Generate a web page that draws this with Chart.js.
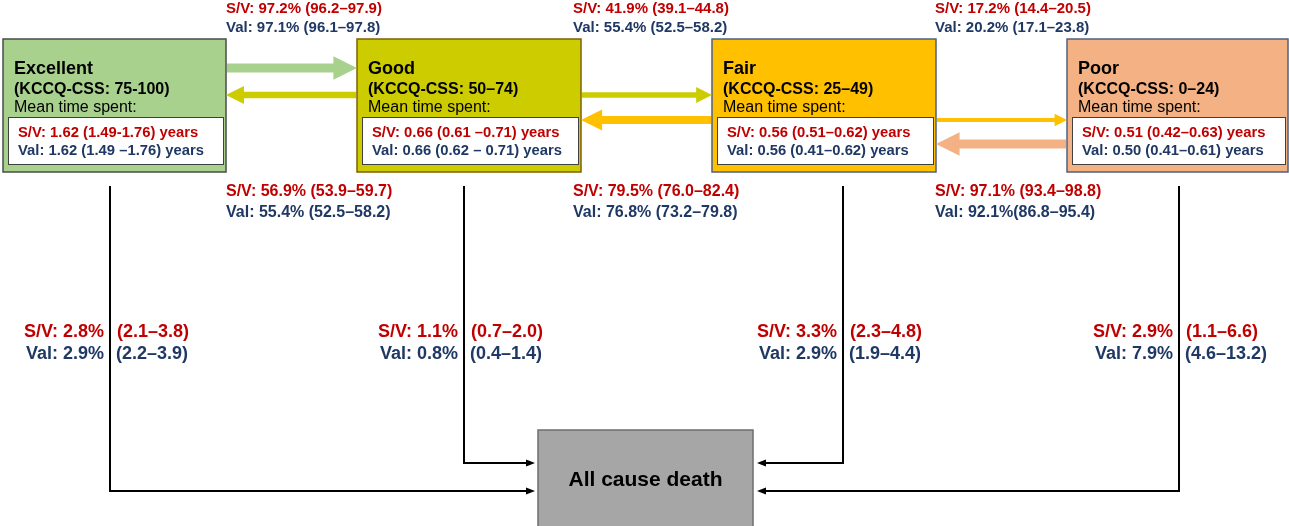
<!DOCTYPE html>
<html>
<head>
<meta charset="utf-8">
<script src="https://cdn.jsdelivr.net/npm/chart.js@4/dist/chart.umd.min.js"></script>
<style>
  html, body { margin: 0; padding: 0; background: #ffffff; }
  #wrap { width: 1289px; height: 526px; }
</style>
</head>
<body>
<div id="wrap"><canvas id="c" width="1289" height="526"></canvas></div>
<script>
// ---- Health states (KCCQ-CSS categories) ----
const states = ['Excellent', 'Good', 'Fair', 'Poor'];
const scoreRanges = ['(KCCQ-CSS: 75-100)', '(KCCQ-CSS: 50–74)', '(KCCQ-CSS: 25–49)', '(KCCQ-CSS: 0–24)'];

// Mean time spent in each state (years), derivation (S/V) and validation (Val) cohorts
const sojournSV     = [1.62, 0.66, 0.56, 0.51];
const sojournSVLow  = [1.49, 0.61, 0.51, 0.42];
const sojournSVHigh = [1.76, 0.71, 0.62, 0.63];
const sojournSVSep  = ['-', ' –', '–', '–'];
const sojournVal     = [1.62, 0.66, 0.56, 0.50];
const sojournValLow  = [1.49, 0.62, 0.41, 0.41];
const sojournValHigh = [1.76, 0.71, 0.62, 0.61];
const sojournValSep  = [' –', ' – ', '–', '–'];

// Transition to the next worse state (Excellent→Good, Good→Fair, Fair→Poor), %
const worsenSV     = [97.2, 41.9, 17.2];
const worsenSVLow  = [96.2, 39.1, 14.4];
const worsenSVHigh = [97.9, 44.8, 20.5];
const worsenVal     = [97.1, 55.4, 20.2];
const worsenValLow  = [96.1, 52.5, 17.1];
const worsenValHigh = [97.8, 58.2, 23.8];

// Transition to the next better state (Good→Excellent, Fair→Good, Poor→Fair), %
const improveSV     = [56.9, 79.5, 97.1];
const improveSVLow  = [53.9, 76.0, 93.4];
const improveSVHigh = [59.7, 82.4, 98.8];
const improveVal     = [55.4, 76.8, 92.1];
const improveValLow  = [52.5, 73.2, 86.8];
const improveValHigh = [58.2, 79.8, 95.4];
const improveValGap  = [' ', ' ', ''];

// Transition to all-cause death from each state, %
const deathSV     = [2.8, 1.1, 3.3, 2.9];
const deathSVLow  = [2.1, 0.7, 2.3, 1.1];
const deathSVHigh = [3.8, 2.0, 4.8, 6.6];
const deathVal     = [2.9, 0.8, 2.9, 7.9];
const deathValLow  = [2.2, 0.4, 1.9, 4.6];
const deathValHigh = [3.9, 1.4, 4.4, 13.2];
const deathLabel = 'All cause death';

// ---- Layout and styling (diagram units = pixels of the 1289×526 canvas) ----
const layout = {
  boxLeft: [3, 357, 712, 1067], boxRight: [226, 581, 936, 1288],
  boxTop: 39, boxBottom: 172,
  innerTop: 117, innerBottom: 164,
  arrowRows: [68, 95, 120, 144],
  topLabelX: [226, 573, 935],
  lineX: [110, 464, 843, 1179], lineTop: 186,
  deathBox: { left: 538, right: 753, top: 430, bottom: 527 },
  deathEntryY: [491, 463, 463, 491],
  deathLabelY: [337, 359]
};
const fills   = ['#a9d18e', '#cccc00', '#ffc000', '#f4b183'];
const borders = ['#4b4b4b', '#7f6000', '#4f6080', '#4f6080'];
const RED = '#c00000', NAVY = '#1f3864';
const FONT = '"Liberation Sans", Arial, Helvetica, sans-serif';

const f1 = v => v.toFixed(1);
const f2 = v => v.toFixed(2);

const diagramPlugin = {
  id: 'stateDiagram',
  afterDraw(chart) {
    const ctx = chart.ctx;
    const xs = chart.scales.x, ys = chart.scales.y;
    const X = v => xs.getPixelForValue(v);
    const Y = v => ys.getPixelForValue(v);

    ctx.save();
    ctx.textBaseline = 'alphabetic';

    const text = (s, x, y, font, color, align) => {
      ctx.font = font; ctx.fillStyle = color; ctx.textAlign = align || 'left';
      ctx.fillText(s, X(x), Y(y));
    };

    // state boxes
    states.forEach((name, i) => {
      const l = layout.boxLeft[i], r = layout.boxRight[i];
      ctx.fillStyle = fills[i];
      ctx.fillRect(X(l), Y(layout.boxTop), X(r) - X(l), Y(layout.boxBottom) - Y(layout.boxTop));
      ctx.strokeStyle = borders[i]; ctx.lineWidth = 1.5;
      ctx.strokeRect(X(l), Y(layout.boxTop), X(r) - X(l), Y(layout.boxBottom) - Y(layout.boxTop));

      text(name, l + 11, 74, 'bold 18px ' + FONT, '#000000');
      text(scoreRanges[i], l + 11, 94, 'bold 16px ' + FONT, '#000000');
      text('Mean time spent:', l + 11, 112, '16px ' + FONT, '#000000');

      const il = l + 5, ir = r - 3;
      ctx.fillStyle = '#ffffff';
      ctx.fillRect(X(il), Y(layout.innerTop), X(ir) - X(il), Y(layout.innerBottom) - Y(layout.innerTop));
      ctx.strokeStyle = '#404040'; ctx.lineWidth = 1;
      ctx.strokeRect(X(il) + 0.5, Y(layout.innerTop) + 0.5, X(ir) - X(il), Y(layout.innerBottom) - Y(layout.innerTop));

      text(`S/V: ${f2(sojournSV[i])} (${f2(sojournSVLow[i])}${sojournSVSep[i]}${f2(sojournSVHigh[i])}) years`,
        il + 10, 137, 'bold 14.8px ' + FONT, RED);
      text(`Val: ${f2(sojournVal[i])} (${f2(sojournValLow[i])}${sojournValSep[i]}${f2(sojournValHigh[i])}) years`,
        il + 10, 155, 'bold 14.8px ' + FONT, NAVY);
    });

    // block arrow whose shaft and head size follow the transition probability
    const blockArrow = (x0, x1, y, p, color) => {
      const t = 3 + 6 * p / 100, h = 10 + 14 * p / 100, len = h;
      const dir = Math.sign(x1 - x0);
      const xb = x1 - dir * len;
      ctx.fillStyle = color;
      ctx.beginPath();
      ctx.moveTo(X(x0), Y(y - t / 2));
      ctx.lineTo(X(xb), Y(y - t / 2));
      ctx.lineTo(X(xb), Y(y - h / 2));
      ctx.lineTo(X(x1), Y(y));
      ctx.lineTo(X(xb), Y(y + h / 2));
      ctx.lineTo(X(xb), Y(y + t / 2));
      ctx.lineTo(X(x0), Y(y + t / 2));
      ctx.closePath();
      ctx.fill();
    };

    for (let i = 0; i < 3; i++) {
      const rightEdge = layout.boxRight[i];
      const nextLeft = layout.boxLeft[i + 1];
      blockArrow(rightEdge + 1, nextLeft, layout.arrowRows[i], worsenSV[i], fills[i]);
      blockArrow(nextLeft - 1, rightEdge, layout.arrowRows[i + 1], improveSV[i], fills[i + 1]);

      const lx = layout.topLabelX[i];
      text(`S/V: ${f1(worsenSV[i])}% (${f1(worsenSVLow[i])}–${f1(worsenSVHigh[i])})`, lx, 13, 'bold 15px ' + FONT, RED);
      text(`Val: ${f1(worsenVal[i])}% (${f1(worsenValLow[i])}–${f1(worsenValHigh[i])})`, lx, 32, 'bold 15px ' + FONT, NAVY);
      text(`S/V: ${f1(improveSV[i])}% (${f1(improveSVLow[i])}–${f1(improveSVHigh[i])})`, lx, 196, 'bold 16px ' + FONT, RED);
      text(`Val: ${f1(improveVal[i])}%${improveValGap[i]}(${f1(improveValLow[i])}–${f1(improveValHigh[i])})`, lx, 217, 'bold 16px ' + FONT, NAVY);
    }

    // all-cause death box
    const d = layout.deathBox;
    ctx.fillStyle = '#a6a6a6';
    ctx.fillRect(X(d.left), Y(d.top), X(d.right) - X(d.left), Y(d.bottom) - Y(d.top));
    ctx.strokeStyle = '#6e6e6e'; ctx.lineWidth = 1.5;
    ctx.strokeRect(X(d.left), Y(d.top), X(d.right) - X(d.left), Y(d.bottom) - Y(d.top));
    text(deathLabel, (d.left + d.right) / 2, 486, 'bold 21px ' + FONT, '#000000', 'center');

    // elbow connectors from each state to death
    states.forEach((s, i) => {
      const lx = layout.lineX[i], ey = layout.deathEntryY[i];
      const toLeftSide = lx < d.left;
      const tipX = toLeftSide ? d.left - 3 : d.right + 4;
      const dir = toLeftSide ? 1 : -1;
      ctx.strokeStyle = '#000000'; ctx.lineWidth = 2;
      ctx.beginPath();
      ctx.moveTo(X(lx), Y(layout.lineTop));
      ctx.lineTo(X(lx), Y(ey));
      ctx.lineTo(X(tipX - dir * 7), Y(ey));
      ctx.stroke();
      ctx.fillStyle = '#000000';
      ctx.beginPath();
      ctx.moveTo(X(tipX), Y(ey));
      ctx.lineTo(X(tipX - dir * 9), Y(ey - 3.5));
      ctx.lineTo(X(tipX - dir * 9), Y(ey + 3.5));
      ctx.closePath();
      ctx.fill();

      const fnt = 'bold 18px ' + FONT;
      const [y1, y2] = layout.deathLabelY;
      text(`S/V: ${f1(deathSV[i])}%`, lx - 6, y1, fnt, RED, 'right');
      text(`(${f1(deathSVLow[i])}–${f1(deathSVHigh[i])})`, lx + 7, y1, fnt, RED, 'left');
      text(`Val: ${f1(deathVal[i])}%`, lx - 6, y2, fnt, NAVY, 'right');
      text(`(${f1(deathValLow[i])}–${f1(deathValHigh[i])})`, lx + 6, y2, fnt, NAVY, 'left');
    });

    ctx.restore();
  }
};

new Chart(document.getElementById('c'), {
  type: 'scatter',
  data: { datasets: [{ data: [], pointRadius: 0 }] },
  options: {
    responsive: false,
    animation: false,
    devicePixelRatio: 1,
    layout: { padding: 0 },
    plugins: { legend: { display: false }, tooltip: { enabled: false } },
    scales: {
      x: { type: 'linear', min: 0, max: 1289, display: false },
      y: { type: 'linear', min: 0, max: 526, reverse: true, display: false }
    }
  },
  plugins: [diagramPlugin]
});
</script>
</body>
</html>
